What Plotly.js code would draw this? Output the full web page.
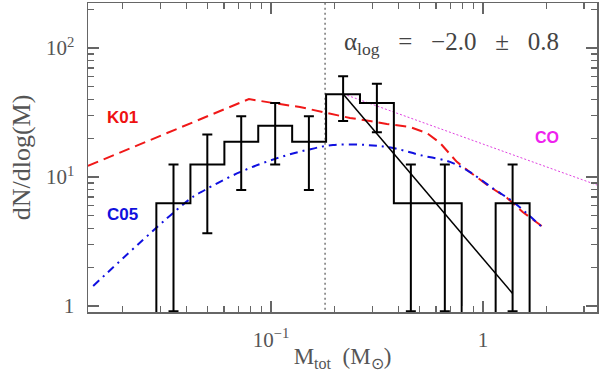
<!DOCTYPE html>
<html>
<head>
<meta charset="utf-8">
<script src="https://cdn.plot.ly/plotly-3.0.1.min.js"></script>
<style>
  html, body { margin: 0; padding: 0; background: #fff; }
  #chart { width: 600px; height: 372px; }
</style>
</head>
<body>
<div id="chart"></div>
<script>
// histogram of clump masses (bins of 0.16 dex)
const binEdges = [0.0288, 0.0417, 0.0603, 0.0871, 0.1259, 0.182, 0.263, 0.380, 0.550, 0.794, 1.148, 1.660];
const binCenters = [0.0347, 0.0501, 0.0724, 0.1047, 0.151, 0.219, 0.316, 0.457, 0.661, 0.955, 1.38];
const binHeights = [6.25, 12.5, 18.75, 25, 18.75, 43.75, 37.5, 6.25, 6.25, 0, 6.25];
const errUp = [6.25, 8.84, 10.83, 12.5, 10.83, 16.54, 15.31, 6.25, 6.25, 0, 6.25];
const errDown = [5.34, 8.84, 10.83, 12.5, 10.83, 16.54, 15.31, 5.34, 5.34, 0, 5.34];

// K01 (red dashed)
const k01Mass = [0.0137, 0.0787, 0.102, 0.137, 0.184, 0.236, 0.293, 0.352, 0.453, 0.544, 0.627, 0.753, 0.869, 1.08, 1.30, 1.54, 1.98];
const k01Val = [12.2, 40.2, 37.5, 34.9, 31.3, 28.7, 27.2, 25.8, 24.4, 21.9, 18.4, 13.1, 10.9, 8.37, 6.88, 5.35, 3.95];

// C05 (blue dash-dot)
const c05Mass = [0.0145, 0.0415, 0.0488, 0.0714, 0.107, 0.148, 0.196, 0.284, 0.376, 0.505, 0.699, 0.869, 1.11, 1.39, 1.92];
const c05Val = [1.43, 6.75, 7.93, 10.9, 14.0, 16.2, 17.7, 17.7, 16.8, 14.8, 13.1, 10.9, 8.2, 6.4, 4.02];

// CO slope (magenta dotted)
const coMass = [0.22, 3.5];
const coVal = [44, 8.6];

// power-law fit, alpha_log = -2.0
const fitMass = [0.219, 1.38];
const fitVal = [44, 1.25];

// completeness limit
const limitMass = 0.18;

const xTickVals = [0.1, 1];
const xTickText = ['10<sup>\u22121</sup>', '1'];
const xMinor = [0.02, 0.03, 0.04, 0.05, 0.06, 0.07, 0.08, 0.09, 0.2, 0.3, 0.4, 0.5, 0.6, 0.7, 0.8, 0.9, 2, 3];
const yTickVals = [1, 10, 100];
const yTickText = ['1', '10<sup>1</sup>', '10<sup>2</sup>'];
const yMinor = [2, 3, 4, 5, 6, 7, 8, 9, 20, 30, 40, 50, 60, 70, 80, 90, 200];

// outline of the histogram, dropping below the axis for empty bins
const floorVal = 0.5;
const histX = [binEdges[0]];
const histY = [floorVal];
binHeights.forEach((h, i) => {
    const v = h > 0 ? h : floorVal;
    histX.push(binEdges[i], binEdges[i + 1]);
    histY.push(v, v);
});
histX.push(binEdges[binEdges.length - 1]);
histY.push(floorVal);

const data = [
    {
        x: [limitMass, limitMass], y: [0.5, 500],
        mode: 'lines', line: { color: '#777', width: 1.5, dash: '2px,3px' }
    },
    {
        x: coMass, y: coVal,
        mode: 'lines', line: { color: '#e040e0', width: 1, dash: '2px,2px' }
    },
    {
        x: k01Mass, y: k01Val,
        mode: 'lines', line: { color: '#f01818', width: 2, dash: '11px,6px' }
    },
    {
        x: c05Mass, y: c05Val,
        mode: 'lines', line: { color: '#1010e0', width: 2, dash: '8px,5px,2px,5px', shape: 'spline' }
    },
    {
        x: histX, y: histY,
        mode: 'lines', line: { color: '#000', width: 2 }
    },
    {
        x: binCenters,
        y: binHeights.map(h => h > 0 ? h : null),
        mode: 'markers', marker: { size: 1, color: 'rgba(0,0,0,0)' },
        cliponaxis: false,
        error_y: {
            type: 'data', symmetric: false,
            array: errUp, arrayminus: errDown,
            color: '#000', thickness: 2, width: 5
        }
    },
    {
        x: fitMass, y: fitVal,
        mode: 'lines', line: { color: '#000', width: 1.5 }
    }
];

const tickFont = { family: 'Liberation Serif, serif', size: 21, color: '#555' };

const layout = {
    width: 600,
    height: 372,
    margin: { l: 88, r: 3, t: 3, b: 60 },
    paper_bgcolor: '#fff',
    plot_bgcolor: '#fff',
    showlegend: false,
    xaxis: {
        type: 'log',
        range: [-1.863, 0.538],
        tickmode: 'array', tickvals: xTickVals, ticktext: xTickText,
        ticks: 'inside', ticklen: 11, tickwidth: 1.2, tickcolor: '#666',
        minor: { tickmode: 'array', tickvals: xMinor, ticks: 'inside', ticklen: 6, tickwidth: 1.2, tickcolor: '#666' },
        showline: true, linecolor: '#666', linewidth: 1.5, mirror: 'allticks',
        showgrid: false, zeroline: false,
        tickfont: tickFont,
        ticklabelstandoff: 8,
        title: { text: 'M<sub>tot</sub>  (M<sub>\u2299</sub>)', font: { family: 'Liberation Serif, serif', size: 23, color: '#555' }, standoff: 6 }
    },
    yaxis: {
        type: 'log',
        range: [-0.0465, 2.349],
        tickmode: 'array', tickvals: yTickVals, ticktext: yTickText,
        ticks: 'inside', ticklen: 11, tickwidth: 1.2, tickcolor: '#666',
        minor: { tickmode: 'array', tickvals: yMinor, ticks: 'inside', ticklen: 6, tickwidth: 1.2, tickcolor: '#666' },
        showline: true, linecolor: '#666', linewidth: 1.5, mirror: 'allticks',
        showgrid: false, zeroline: false,
        tickfont: tickFont,
        ticklabelstandoff: 8,
        title: { text: 'dN/dlog(M)', font: { family: 'Liberation Serif, serif', size: 26, color: '#555' }, standoff: 8 }
    },
    annotations: [
        {
            xref: 'paper', yref: 'paper', x: 0.715, y: 0.868,
            xanchor: 'center', yanchor: 'middle', showarrow: false,
            text: '\u03b1<sub>log</sub>\u00a0\u00a0\u00a0=\u00a0\u00a0\u00a0\u22122.0\u00a0\u00a0\u00a0\u00b1\u00a0\u00a0\u00a00.8',
            font: { family: 'Liberation Serif, serif', size: 25, color: '#444' }
        },
        {
            xref: 'paper', yref: 'paper', x: 0.067, y: 0.628,
            xanchor: 'center', yanchor: 'middle', showarrow: false,
            text: '<b>K01</b>', font: { family: 'Liberation Sans, Arial, sans-serif', size: 17, color: '#ee1111' }
        },
        {
            xref: 'paper', yref: 'paper', x: 0.067, y: 0.314,
            xanchor: 'center', yanchor: 'middle', showarrow: false,
            text: '<b>C05</b>', font: { family: 'Liberation Sans, Arial, sans-serif', size: 17, color: '#1111dd' }
        },
        {
            xref: 'paper', yref: 'paper', x: 0.902, y: 0.566,
            xanchor: 'center', yanchor: 'middle', showarrow: false,
            text: '<b>CO</b>', font: { family: 'Liberation Sans, Arial, sans-serif', size: 16, color: '#ee22ee' }
        }
    ]
};

const config = { staticPlot: true, displayModeBar: false };

Plotly.newPlot('chart', data, layout, config);
</script>
</body>
</html>
